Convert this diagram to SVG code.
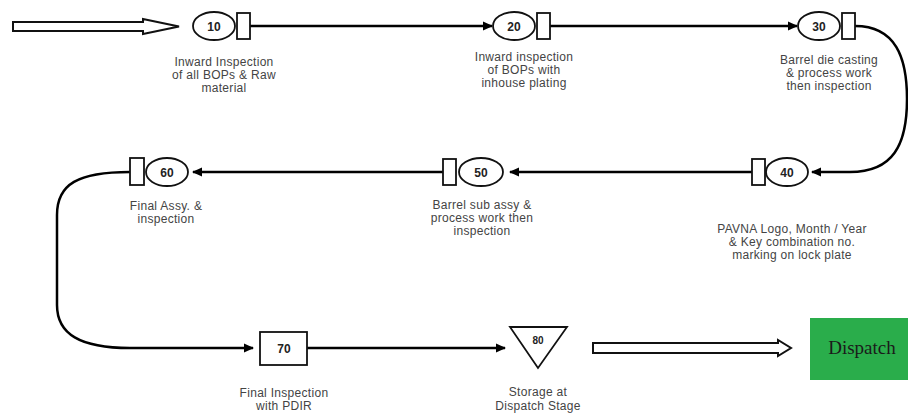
<svg xmlns="http://www.w3.org/2000/svg" width="908" height="417" viewBox="0 0 908 417">
<defs>
<marker id="ah" viewBox="0 0 10 10" refX="9" refY="5" markerWidth="4" markerHeight="4" orient="auto" markerUnits="strokeWidth">
<path d="M0,0.5 L10,5 L0,9.5 z" fill="#000"/>
</marker>
<style>
.sh{fill:#fff;stroke:#111;stroke-width:1.8}
.num{font-family:"Liberation Sans",Arial,sans-serif;font-size:12px;font-weight:bold;fill:#222;text-anchor:middle}
.lbl{font-family:"Liberation Sans",Arial,sans-serif;font-size:12px;letter-spacing:0.3px;fill:#444;text-anchor:middle}
.cn{fill:none;stroke:#000;stroke-width:2.5}
.hollow{fill:#fff;stroke:#111;stroke-width:2}
</style>
</defs>
<rect width="908" height="417" fill="#fff"/>

<g id="connectors">
<polygon class="hollow" points="13,22 143,22 143,19 179,26.5 143,34 143,31 13,31"/>
<path class="cn" d="M250,26 L492,26" marker-end="url(#ah)"/>
<path class="cn" d="M550,26 L797,26" marker-end="url(#ah)"/>
<path class="cn" d="M855,26 C896,26 907,58 907,99 C907,145 893,172 850,172 L812,172" marker-end="url(#ah)"/>
<path class="cn" d="M752,172 L510,172" marker-end="url(#ah)"/>
<path class="cn" d="M443,172 L193,172" marker-end="url(#ah)"/>
<path class="cn" d="M130,172 C78,172 57,184 57,215 L57,305 C57,334 80,348 130,348 L253,348" marker-end="url(#ah)"/>
<path class="cn" d="M307,348 L505,348" marker-end="url(#ah)"/>
<polygon class="hollow" points="593,343 778,343 778,340 791,348 778,356 778,353 593,353"/>
</g>

<g id="node10">
<ellipse class="sh" cx="214" cy="26" rx="21" ry="14"/>
<rect class="sh" x="237" y="13" width="13" height="26"/>
<text class="num" x="214" y="30.5">10</text>
<text class="lbl"><tspan x="224" y="66">Inward Inspection</tspan><tspan x="224" y="79">of all BOPs &amp; Raw</tspan><tspan x="224" y="92">material</tspan></text>
</g>

<g id="node20">
<ellipse class="sh" cx="514" cy="26" rx="21" ry="14"/>
<rect class="sh" x="537" y="13" width="13" height="26"/>
<text class="num" x="514" y="30.5">20</text>
<text class="lbl"><tspan x="524" y="61">Inward inspection</tspan><tspan x="524" y="74">of BOPs with</tspan><tspan x="524" y="87">inhouse plating</tspan></text>
</g>

<g id="node30">
<ellipse class="sh" cx="819" cy="26" rx="21" ry="14"/>
<rect class="sh" x="842" y="13" width="13" height="26"/>
<text class="num" x="819" y="30.5">30</text>
<text class="lbl"><tspan x="829" y="64">Barrel die casting</tspan><tspan x="829" y="77">&amp; process work</tspan><tspan x="829" y="90">then inspection</tspan></text>
</g>

<g id="node40">
<rect class="sh" x="752" y="159" width="13" height="26"/>
<ellipse class="sh" cx="787" cy="172" rx="21" ry="14"/>
<text class="num" x="787" y="176.5">40</text>
<text class="lbl"><tspan x="792" y="233">PAVNA Logo, Month / Year</tspan><tspan x="792" y="246">&amp; Key combination  no.</tspan><tspan x="792" y="259">marking on lock plate</tspan></text>
</g>

<g id="node50">
<rect class="sh" x="443" y="159" width="13" height="26"/>
<ellipse class="sh" cx="481" cy="172" rx="22" ry="14"/>
<text class="num" x="481" y="176.5">50</text>
<text class="lbl"><tspan x="482" y="209">Barrel sub assy  &amp;</tspan><tspan x="482" y="222">process work then</tspan><tspan x="482" y="235">inspection</tspan></text>
</g>

<g id="node60">
<rect class="sh" x="130" y="158" width="14" height="27"/>
<ellipse class="sh" cx="167" cy="172" rx="21" ry="14"/>
<text class="num" x="167" y="176.5">60</text>
<text class="lbl"><tspan x="166" y="210">Final Assy. &amp;</tspan><tspan x="166" y="223">inspection</tspan></text>
</g>

<g id="node70">
<rect class="sh" x="260" y="332" width="47" height="33"/>
<text class="num" x="284" y="353">70</text>
<text class="lbl"><tspan x="284" y="397">Final  Inspection</tspan><tspan x="284" y="410">with PDIR</tspan></text>
</g>

<g id="node80">
<polygon class="sh" points="510,327 567,327 538,368"/>
<text class="num" x="538" y="344" style="font-size:10px">80</text>
<text class="lbl"><tspan x="538" y="396">Storage at</tspan><tspan x="538" y="410">Dispatch Stage</tspan></text>
</g>

<g id="dispatch">
<rect x="810" y="318" width="105" height="62" fill="#2aad4b"/>
<text x="862" y="354" style="font-family:'Liberation Serif','Times New Roman',serif;font-size:19px;fill:#1a1a1a;text-anchor:middle">Dispatch</text>
</g>
</svg>
